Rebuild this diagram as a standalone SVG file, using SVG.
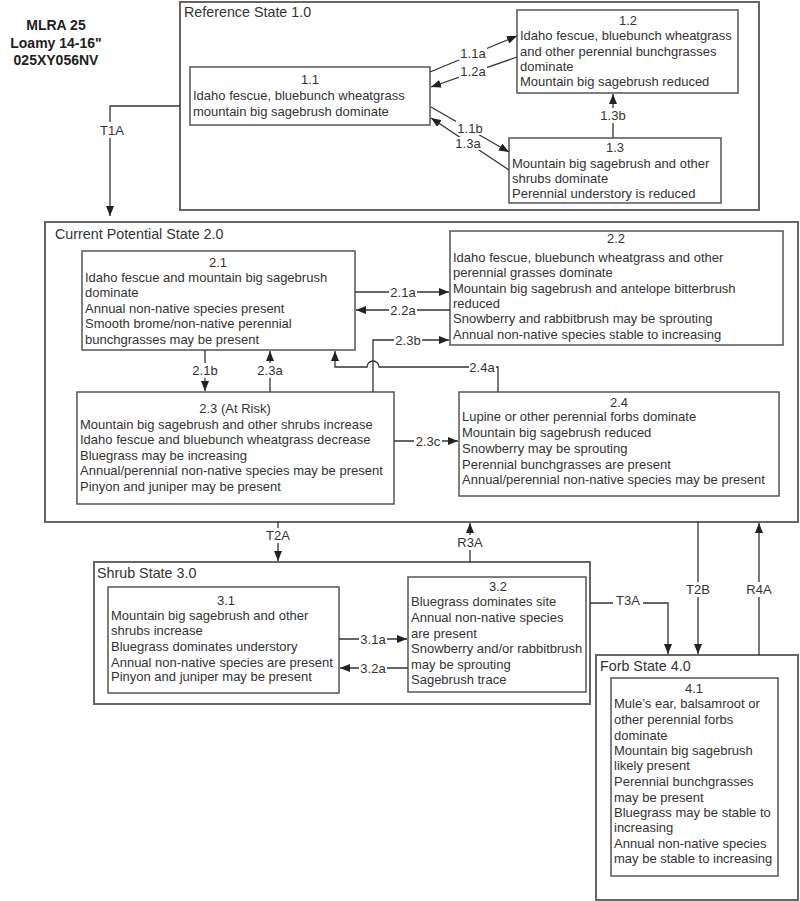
<svg xmlns="http://www.w3.org/2000/svg" width="800" height="901" viewBox="0 0 800 901">
<defs>
<marker id="ah" markerUnits="userSpaceOnUse" markerWidth="10" markerHeight="8" refX="10" refY="4" orient="auto">
<path d="M0,0 L10,4 L0,8 z" fill="#222"/>
</marker>
<style>
text{font-family:"Liberation Sans",Arial,sans-serif;font-size:13px;fill:#333}
.hdr{font-weight:bold;font-size:14px;fill:#222}
.sl{font-size:14.3px}
.st{fill:#fff;stroke:#666;stroke-width:2}
.bx{fill:#fff;stroke:#555;stroke-width:1.5}
.c{text-anchor:middle}
.cn{fill:none;stroke:#333;stroke-width:1.3}
.ar{marker-end:url(#ah)}
.lb{text-anchor:middle}
.bg{fill:#fff;stroke:none}
</style>
</defs>
<rect width="800" height="901" fill="#fff"/>

<g id="header">
<text class="hdr c" x="56" y="30">MLRA 25</text>
<text class="hdr c" x="56" y="48">Loamy 14-16"</text>
<text class="hdr c" x="56" y="65">025XY056NV</text>
</g>

<g id="state1">
<rect class="st" x="180" y="2" width="579" height="208"/>
<text class="sl" x="184" y="17">Reference State 1.0</text>
</g>
<g id="state2">
<rect class="st" x="45" y="222" width="753" height="300"/>
<text class="sl" x="55" y="239">Current Potential State 2.0</text>
</g>
<g id="state3">
<rect class="st" x="94" y="562" width="496" height="142"/>
<text class="sl" x="97" y="578">Shrub State 3.0</text>
</g>
<g id="state4">
<rect class="st" x="596" y="655" width="202" height="245"/>
<text class="sl" x="600" y="671">Forb State 4.0</text>
</g>

<g id="n11">
<rect class="bx" x="190" y="67" width="240" height="58"/>
<text class="c" x="310" y="84">1.1</text>
<text x="193" y="100">Idaho fescue, bluebunch wheatgrass</text>
<text x="193" y="116">mountain big sagebrush dominate</text>
</g>
<g id="n12">
<rect class="bx" x="517" y="10" width="221" height="83"/>
<text class="c" x="628" y="25">1.2</text>
<text x="520" y="40">Idaho fescue, bluebunch wheatgrass</text>
<text x="520" y="56">and other perennial bunchgrasses</text>
<text x="520" y="71">dominate</text>
<text x="520" y="86">Mountain big sagebrush reduced</text>
</g>
<g id="n13">
<rect class="bx" x="509" y="138" width="212" height="65"/>
<text class="c" x="615" y="152">1.3</text>
<text x="512" y="168">Mountain big sagebrush and other</text>
<text x="512" y="183">shrubs dominate</text>
<text x="512" y="198">Perennial understory is reduced</text>
</g>

<g id="n21">
<rect class="bx" x="82" y="251" width="273" height="99"/>
<text class="c" x="218" y="267">2.1</text>
<text x="85" y="282">Idaho fescue and mountain big sagebrush</text>
<text x="85" y="297">dominate</text>
<text x="85" y="313">Annual non-native species present</text>
<text x="85" y="328">Smooth brome/non-native perennial</text>
<text x="85" y="344">bunchgrasses may be present</text>
</g>
<g id="n22">
<rect class="bx" x="450" y="231" width="333" height="114"/>
<text class="c" x="616" y="243">2.2</text>
<text x="453" y="262">Idaho fescue, bluebunch wheatgrass and other</text>
<text x="453" y="277">perennial grasses dominate</text>
<text x="453" y="293">Mountain big sagebrush and antelope bitterbrush</text>
<text x="453" y="308">reduced</text>
<text x="453" y="323">Snowberry and rabbitbrush may be sprouting</text>
<text x="453" y="339">Annual non-native species stable to increasing</text>
</g>
<g id="n23">
<rect class="bx" x="77" y="392" width="317" height="112"/>
<text class="c" x="235" y="413">2.3 (At Risk)</text>
<text x="80" y="429">Mountain big sagebrush and other shrubs increase</text>
<text x="80" y="444">Idaho fescue and bluebunch wheatgrass decrease</text>
<text x="80" y="460">Bluegrass may be increasing</text>
<text x="80" y="475">Annual/perennial non-native species may be present</text>
<text x="80" y="491">Pinyon and juniper may be present</text>
</g>
<g id="n24">
<rect class="bx" x="459" y="392" width="320" height="104"/>
<text class="c" x="619" y="407">2.4</text>
<text x="462" y="421">Lupine or other perennial forbs dominate</text>
<text x="462" y="437">Mountain big sagebrush reduced</text>
<text x="462" y="453">Snowberry may be sprouting</text>
<text x="462" y="469">Perennial bunchgrasses are present</text>
<text x="462" y="484">Annual/perennial non-native species may be present</text>
</g>

<g id="n31">
<rect class="bx" x="108" y="587" width="231" height="106"/>
<text class="c" x="226" y="605">3.1</text>
<text x="111" y="620">Mountain big sagebrush and other</text>
<text x="111" y="635">shrubs increase</text>
<text x="111" y="651">Bluegrass dominates understory</text>
<text x="111" y="667">Annual non-native species are present</text>
<text x="111" y="681">Pinyon and juniper may be present</text>
</g>
<g id="n32">
<rect class="bx" x="408" y="577" width="178" height="115"/>
<text class="c" x="498" y="591">3.2</text>
<text x="411" y="606">Bluegrass dominates site</text>
<text x="411" y="622">Annual non-native species</text>
<text x="411" y="638">are present</text>
<text x="411" y="653">Snowberry and/or rabbitbrush</text>
<text x="411" y="669">may be sprouting</text>
<text x="411" y="684">Sagebrush trace</text>
</g>
<g id="n41">
<rect class="bx" x="611" y="678" width="167" height="198"/>
<text class="c" x="694" y="693">4.1</text>
<text x="614" y="708">Mule’s ear, balsamroot or</text>
<text x="614" y="724">other perennial forbs</text>
<text x="614" y="740">dominate</text>
<text x="614" y="755">Mountain big sagebrush</text>
<text x="614" y="770">likely present</text>
<text x="614" y="786">Perennial bunchgrasses</text>
<text x="614" y="802">may be present</text>
<text x="614" y="817">Bluegrass may be stable to</text>
<text x="614" y="832">increasing</text>
<text x="614" y="848">Annual non-native species</text>
<text x="614" y="863">may be stable to increasing</text>
</g>

<g id="connectors">
<path class="cn ar" d="M180,106 H110 V216"/>
<rect class="bg" x="97" y="122" width="30" height="16"/>
<text class="lb" x="112" y="135">T1A</text>

<path class="cn ar" d="M430,72 L517,36"/>
<rect class="bg" x="459" y="46" width="28" height="14"/>
<text class="lb" x="473" y="58">1.1a</text>
<path class="cn ar" d="M517,57 L431,87"/>
<rect class="bg" x="459" y="64" width="28" height="14"/>
<text class="lb" x="473" y="76">1.2a</text>
<path class="cn ar" d="M431,107 L509,152"/>
<rect class="bg" x="456" y="121" width="28" height="14"/>
<text class="lb" x="470" y="133">1.1b</text>
<path class="cn ar" d="M509,170 L431,118"/>
<rect class="bg" x="454" y="137" width="28" height="13"/>
<text class="lb" x="468" y="148">1.3a</text>
<path class="cn ar" d="M613,138 V94"/>
<rect class="bg" x="599" y="108" width="28" height="15"/>
<text class="lb" x="613" y="120">1.3b</text>

<path class="cn ar" d="M355,292 H449"/>
<rect class="bg" x="389" y="286" width="28" height="12"/>
<text class="lb" x="403" y="297">2.1a</text>
<path class="cn ar" d="M450,310 H356"/>
<rect class="bg" x="389" y="304" width="28" height="12"/>
<text class="lb" x="403" y="315">2.2a</text>
<path class="cn ar" d="M373,392 V340 H449"/>
<rect class="bg" x="394" y="334" width="28" height="12"/>
<text class="lb" x="408" y="345">2.3b</text>
<path class="cn ar" d="M498,392 V367 H379 A6,6 0 0 0 367,367 H335 V351"/>
<rect class="bg" x="469" y="361" width="27" height="12"/>
<text class="lb" x="482" y="372">2.4a</text>
<path class="cn ar" d="M205,350 V391"/>
<rect class="bg" x="191" y="363" width="28" height="15"/>
<text class="lb" x="205" y="375">2.1b</text>
<path class="cn ar" d="M270,392 V351"/>
<rect class="bg" x="256" y="363" width="28" height="15"/>
<text class="lb" x="270" y="375">2.3a</text>
<path class="cn ar" d="M394,441 H458"/>
<rect class="bg" x="414" y="435" width="28" height="12"/>
<text class="lb" x="428" y="446">2.3c</text>

<path class="cn ar" d="M278,522 V561"/>
<rect class="bg" x="263" y="528" width="30" height="15"/>
<text class="lb" x="278" y="540">T2A</text>
<path class="cn ar" d="M470,562 V523"/>
<rect class="bg" x="455" y="535" width="30" height="15"/>
<text class="lb" x="470" y="547">R3A</text>
<path class="cn ar" d="M698,522 V654"/>
<rect class="bg" x="683" y="582" width="30" height="15"/>
<text class="lb" x="698" y="594">T2B</text>
<path class="cn ar" d="M759,655 V523"/>
<rect class="bg" x="744" y="582" width="30" height="15"/>
<text class="lb" x="759" y="594">R4A</text>
<path class="cn ar" d="M590,603 H668 V654"/>
<rect class="bg" x="613" y="594" width="30" height="12"/>
<text class="lb" x="628" y="605">T3A</text>

<path class="cn ar" d="M339,639 H407"/>
<rect class="bg" x="359" y="633" width="28" height="12"/>
<text class="lb" x="373" y="644">3.1a</text>
<path class="cn ar" d="M408,668 H340"/>
<rect class="bg" x="359" y="662" width="28" height="12"/>
<text class="lb" x="373" y="673">3.2a</text>
</g>
</svg>
